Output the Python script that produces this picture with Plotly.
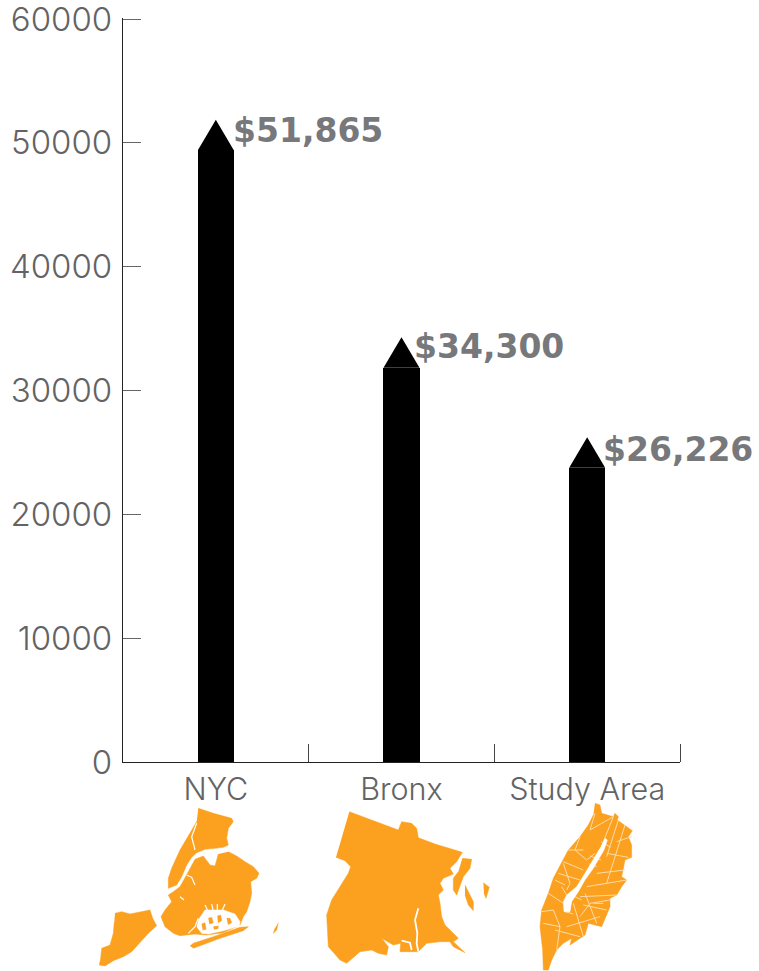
import plotly.graph_objects as go

# ---- chart data ----
categories = ["NYC", "Bronx", "Study Area"]
values = [51865, 34300, 26226]
value_labels = ["$51,865", "$34,300", "$26,226"]
y_ticks = [0, 10000, 20000, 30000, 40000, 50000, 60000]
boundaries = [0.5, 1.5, 2.5]

# ---- geometry and style ----
BAR_WIDTH = 0.194
HEAD = 2420
LABEL_DX = [-3, -8, -4]
LABEL_DY = [-11, -9, -12]
GREY = "#636365"
ORANGE = "#FBA01F"
W, H = 759, 971

# ---- illustrative borough outlines (page pixels = offset + crop / 3) ----
nyc_fill = [
    [(105,430),(125,425),(150,432),(185,425),(210,420),(218,445),(230,467),(205,490),(185,512),(165,535),(155,545),(130,560),(100,572),(75,588),(58,585),(62,565),(65,535),(90,525),(100,490),(103,455)],
    [(355,115),(400,130),(455,145),(460,155),(445,175),(440,205),(445,225),(430,232),(405,235),(375,238),(350,248),(335,262),(320,285),(305,320),(290,345),(265,355),(265,325),(275,295),(300,240),(330,190),(350,155)],
    [(445,245),(470,258),(495,275),(520,290),(537,310),(530,325),(512,335),(515,370),(510,395),(500,425),(490,440),(480,465),(430,488),(380,495),(345,492),(320,495),(300,497),(280,490),(255,470),(243,440),(255,420),(275,395),(265,375),(280,365),(300,350),(325,305),(345,268),(370,258),(390,285),(405,288),(415,252)],
    [(330,528),(340,520),(400,500),(480,472),(505,470),(490,482),(420,505),(340,535)],
    [(595,458),(590,480),(580,490),(585,475)],
]
nyc_bay = [
    [(355,450),(375,420),(430,420),(465,432),(480,455),(478,468),(430,482),(385,492),(365,490),(350,470)],
]
nyc_islands = [
    [(385,445),(395,442),(400,458),(388,462)],
    [(412,438),(422,435),(425,452),(414,458)],
    [(440,445),(450,445),(455,458),(444,464)],
    [(400,470),(415,468),(414,476),(402,478)],
    [(365,462),(375,458),(378,478),(368,480)],
]
nyc_white = [
    [(350,160),(335,200),(345,240)],
    [(320,315),(335,322),(345,345)],
    [(300,380),(312,390)],
    [(375,405),(385,425)], [(395,402),(400,425)], [(412,402),(412,425)], [(435,402),(425,425)],
    [(355,445),(345,470),(325,490)],
    [(460,155),(470,190)],
]
bronx_fill = [
    [(118,125),(265,180),(275,155),(305,160),(320,175),(325,203),(375,222),(457,247),(440,275),(420,295),(430,312),(400,325),(390,340),(400,360),(385,375),(390,400),(395,440),(405,465),(420,480),(445,505),(430,515),(465,548),(430,530),(420,515),(390,515),(350,520),(335,535),(325,545),(300,545),(270,545),(272,520),(250,525),(215,505),(235,530),(230,555),(205,550),(185,540),(150,545),(110,580),(90,570),(55,530),(50,435),(65,390),(90,350),(115,310),(122,290),(105,272),(78,262)],
    [(457,265),(485,268),(480,295),(460,320),(440,375),(430,360),(430,325),(445,305)],
    [(465,345),(475,365),(490,395),(490,422),(475,405),(465,375)],
    [(520,338),(538,352),(528,385),(522,370)],
]
bronx_white = [
    [(325,415),(315,450),(322,490),(320,520),(325,545)],
    [(275,512),(300,518),(305,540)],
]
study_fill = [
    [(285,100),(300,105),(305,130),(340,140),(345,130),(355,140),(352,150),(375,165),(397,182),(385,200),(395,225),(395,262),(375,270),(365,320),(380,330),(365,350),(350,375),(330,385),(330,410),(305,470),(265,460),(255,495),(240,505),(210,525),(215,505),(190,520),(170,540),(155,570),(145,600),(130,600),(128,540),(120,470),(125,420),(145,370),(160,325),(185,280),(205,240),(240,200),(265,165),(280,135)],
]
study_hole = [
    [(315,205),(322,210),(312,240),(300,262),(280,295),(255,330),(235,365),(215,395),(210,425),(192,425),(190,395),(200,375),(230,350),(255,310),(280,270),(300,235)],
]
study_white = [
    [(303,215),(332,232)], [(270,258),(303,270)], [(268,282),(290,290)], [(185,350),(200,375)],
    [(225,380),(245,390)], [(195,425),(220,432)],
    [(285,130),(270,180),(340,140)], [(340,140),(300,240)], [(375,165),(340,280),(320,340)], [(355,150),(320,260)],
    [(240,200),(225,240),(260,270),(285,250)], [(205,240),(250,240)], [(190,275),(250,300)], [(175,310),(240,330)],
    [(395,200),(350,215)], [(385,262),(320,250)], [(375,300),(290,310)], [(380,330),(260,350)], [(350,375),(240,380)],
    [(330,390),(270,400),(240,440)], [(320,420),(250,405)], [(300,440),(200,470)], [(125,425),(160,420),(180,470),(170,540)],
    [(145,370),(190,400)], [(165,330),(195,345)], [(190,280),(210,340),(200,360)], [(220,400),(250,500)], [(255,370),(290,460)],
    [(165,480),(240,500)], [(130,460),(180,470)], [(280,400),(310,400)],
]

NYC_OFF, BRONX_OFF, STUDY_OFF = (80, 770), (310, 770), (500, 770)


def flatten(polys, off):
    xs, ys = [], []
    for poly in polys:
        xs += [off[0] + p[0] / 3 for p in poly] + [None]
        ys += [off[1] + p[1] / 3 for p in poly] + [None]
    return xs, ys


fig = go.Figure()

# bar bodies and pointed heads, from the values
fig.add_trace(go.Bar(
    x=list(range(len(values))), y=[v - HEAD for v in values],
    width=BAR_WIDTH, marker=dict(color="#000000", line=dict(width=0)),
    hoverinfo="skip", showlegend=False,
))
hx, hy = [], []
for i, v in enumerate(values):
    hx += [i - BAR_WIDTH / 2, i, i + BAR_WIDTH / 2, None]
    hy += [v - HEAD - 40, v, v - HEAD - 40, None]
fig.add_trace(go.Scatter(x=hx, y=hy, mode="lines", fill="toself", fillcolor="#000000",
                         line=dict(width=0, color="#000000"), hoverinfo="skip", showlegend=False))


def add_map(polys, off, color):
    x, y = flatten(polys, off)
    fig.add_trace(go.Scatter(x=x, y=y, xaxis="x2", yaxis="y2", mode="lines", fill="toself",
                             fillcolor=color, line=dict(width=0.5, color=color),
                             hoverinfo="skip", showlegend=False))


def add_lines(polys, off, color, width):
    x, y = flatten(polys, off)
    fig.add_trace(go.Scatter(x=x, y=y, xaxis="x2", yaxis="y2", mode="lines",
                             line=dict(width=width, color=color),
                             hoverinfo="skip", showlegend=False))


add_map(nyc_fill, NYC_OFF, ORANGE)
add_map(nyc_bay, NYC_OFF, "#FFFFFF")
add_map(nyc_islands, NYC_OFF, ORANGE)
add_lines(nyc_white, NYC_OFF, "#FFFFFF", 1.2)
add_map(bronx_fill, BRONX_OFF, ORANGE)
add_lines(bronx_white, BRONX_OFF, "#FFFFFF", 1.8)
add_map(study_fill, STUDY_OFF, ORANGE)
add_lines(study_white, STUDY_OFF, "#FDDDAA", 1)
add_map(study_hole, STUDY_OFF, "#FFFFFF")

for i, (v, t) in enumerate(zip(values, value_labels)):
    fig.add_annotation(x=i + BAR_WIDTH / 2, y=v, xref="x", yref="y", text=t, showarrow=False,
                       xanchor="left", yanchor="middle", xshift=LABEL_DX[i], yshift=LABEL_DY[i],
                       font=dict(family="DejaVu Sans", size=33, color="#77787B", weight="bold"))

fig.update_layout(
    width=W, height=H, margin=dict(l=0, r=0, t=0, b=0, autoexpand=False),
    paper_bgcolor="#FFFFFF", plot_bgcolor="rgba(0,0,0,0)", showlegend=False, bargap=0,
    xaxis=dict(domain=[123 / W, 680 / W], range=[-0.5, 2.5], tickmode="array", automargin=False,
               tickvals=list(range(len(categories))), ticktext=categories, ticks="",
               showgrid=False, zeroline=False, showline=True, linecolor="#222222", linewidth=1.2,
               tickfont=dict(family="Inter", size=30.5, color=GREY, weight=300), ticklabelstandoff=0,
               minor=dict(tickmode="array", tickvals=boundaries, ticks="inside", ticklen=18,
                          tickcolor="#444444", tickwidth=1, showgrid=False),
               anchor="y"),
    yaxis=dict(domain=[1 - 762 / H, 1 - 17.7 / H], range=[0, 60105], tickmode="array", automargin=False,
               tickvals=y_ticks, ticktext=[str(t) for t in y_ticks], ticks="inside", ticklen=18,
               tickcolor="#666666", tickwidth=1, showgrid=False, zeroline=False, showline=True,
               linecolor="#222222", linewidth=1.4, ticklabelstandoff=3, ticklabeloverflow="allow",
               tickfont=dict(family="Inter", size=33, color=GREY, weight=300), anchor="x"),
    xaxis2=dict(domain=[0, 1], range=[0, W], visible=False, anchor="y2", fixedrange=True, automargin=False),
    yaxis2=dict(domain=[0, 1], range=[H, 0], visible=False, anchor="x2", fixedrange=True, automargin=False),
)

fig.write_html("out.html", config={"displayModeBar": False}, post_script="document.body.style.margin='0';")
